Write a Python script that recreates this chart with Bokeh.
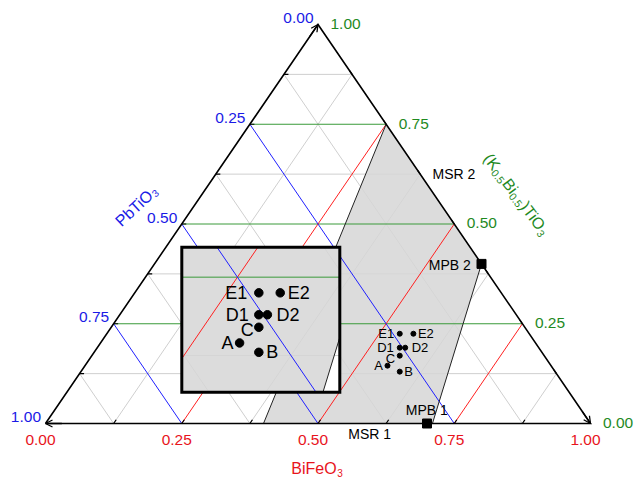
import math
from bokeh.plotting import figure
from bokeh.models import Arrow, OpenHead
from bokeh.core.properties import value
from bokeh.embed import file_html
from bokeh.resources import INLINE

# ---------------- data ----------------
tick_values = [0.0, 0.25, 0.5, 0.75, 1.0]
tick_labels = ["0.00", "0.25", "0.50", "0.75", "1.00"]
minor_values = [0.125, 0.375, 0.625, 0.875]
major_values = [0.25, 0.5, 0.75]
all_tick_values = [0.125, 0.25, 0.375, 0.5, 0.625, 0.75, 0.875]

sample_names = ["A", "B", "C", "D1", "D2", "E1", "E2"]
sample_bifeo3 = [0.555, 0.585, 0.565, 0.555, 0.565, 0.5375, 0.5625]
sample_kbt = [0.145, 0.130, 0.170, 0.190, 0.190, 0.225, 0.225]
sample_pbtio3 = [0.300, 0.285, 0.265, 0.255, 0.245, 0.2375, 0.2125]

mpb_names = ["MPB 1", "MPB 2"]
mpb_bifeo3 = [0.70, 0.60]
mpb_kbt = [0.00, 0.40]
mpb_pbtio3 = [0.30, 0.00]

msr_bifeo3 = [0.40, 0.25, 0.60, 0.71]
msr_kbt = [0.00, 0.75, 0.40, 0.00]
msr_pbtio3 = [0.60, 0.00, 0.00, 0.29]

# ---------------- styles / layout ----------------
FONT = "Liberation Sans"
RED_T, BLUE_T, GREEN_T = "#e8141c", "#1a1ae6", "#1f8a1f"
RED_L, BLUE_L, GREEN_L = "#ff2020", "#2020ff", "#3a9a3a"
GRID_C = "#cfcfcf"
FILL_C = "#d6d6d6"
TICK_FS = 15.5

W, H = 635, 479
PX_X, PX_Y = 545.0, 399.0
X0R = -45.0 / PX_X
Y0R = -56.0 / PX_Y

INSET = (0.2501, 0.5400, 0.0784, 0.4419)   # left, right, bottom, top (plot units)
ZOOM_CENTER = (0.6523, 0.1821)
ZOOM = 1.57

AW = {'(': .333, ')': .333, 'K': .667, '0': .556, '.': .278, '5': .556, 'B': .667,
      'i': .222, 'T': .611, 'O': .778, '3': .556, 'P': .667, 'b': .556, 'F': .611,
      'e': .556, ' ': .278}


def twidth(s, size):
    return sum(AW.get(c, .556) for c in s) * size


def cart(a, b, c):
    s = a + b + c
    return ((a + b / 2.0) / s, b / s)


p = figure(width=W, height=H, output_backend="svg", toolbar_location=None,
           x_range=(X0R, X0R + W / PX_X), y_range=(Y0R, Y0R + H / PX_Y),
           min_border=0, background_fill_color="white", border_fill_color="white")
p.axis.visible = False
p.grid.visible = False
p.outline_line_color = None


def family_line(v, fam):
    if fam == "b":
        return cart(0, v, 1 - v), cart(1 - v, v, 0)
    if fam == "c":
        return cart(0, 1 - v, v), cart(1 - v, 0, v)
    return cart(v, 0, 1 - v), cart(v, 1 - v, 0)


def clip_seg(p0, p1, box):
    L, R, B, T = box
    x0, y0 = p0
    x1, y1 = p1
    dx, dy = x1 - x0, y1 - y0
    t0, t1 = 0.0, 1.0
    for pp, q in ((-dx, x0 - L), (dx, R - x0), (-dy, y0 - B), (dy, T - y0)):
        if pp == 0:
            if q < 0:
                return None
        else:
            t = q / pp
            if pp < 0:
                t0 = max(t0, t)
            else:
                t1 = min(t1, t)
    if t0 >= t1:
        return None
    return (x0 + t0 * dx, y0 + t0 * dy), (x0 + t1 * dx, y0 + t1 * dy)


def clip_poly(pts, box):
    L, R, B, T = box
    tests = [
        (lambda q: q[0] >= L, lambda a, b: (L, a[1] + (b[1] - a[1]) * (L - a[0]) / (b[0] - a[0]))),
        (lambda q: q[0] <= R, lambda a, b: (R, a[1] + (b[1] - a[1]) * (R - a[0]) / (b[0] - a[0]))),
        (lambda q: q[1] >= B, lambda a, b: (a[0] + (b[0] - a[0]) * (B - a[1]) / (b[1] - a[1]), B)),
        (lambda q: q[1] <= T, lambda a, b: (a[0] + (b[0] - a[0]) * (T - a[1]) / (b[1] - a[1]), T)),
    ]
    out = list(pts)
    for inside, inter in tests:
        inp, out = out, []
        if not inp:
            break
        prev = inp[-1]
        for cur in inp:
            if inside(cur):
                if not inside(prev):
                    out.append(inter(prev, cur))
                out.append(cur)
            elif inside(prev):
                out.append(inter(prev, cur))
            prev = cur
    return out


def zoom(pt):
    cx = (INSET[0] + INSET[1]) / 2.0
    cy = (INSET[2] + INSET[3]) / 2.0
    return (cx + ZOOM * (pt[0] - ZOOM_CENTER[0]), cy + ZOOM * (pt[1] - ZOOM_CENTER[1]))


def add_text(x, y, text, size, color, align="left", baseline="middle", dx=0.0, dy=0.0, angle=0.0):
    p.text(x=[x], y=[y], text=[text], text_font=value(FONT), text_font_size=value(f"{size}px"),
           text_color=color, text_align=align, text_baseline=baseline,
           x_offset=dx, y_offset=dy, angle=angle)


def draw_lines(segs, color, width, transform=None, box=None):
    xs, ys = [], []
    for a, b in segs:
        if transform is not None:
            a, b = transform(a), transform(b)
            r = clip_seg(a, b, box)
            if r is None:
                continue
            a, b = r
        xs.append([a[0], b[0]])
        ys.append([a[1], b[1]])
    if xs:
        p.multi_line(xs, ys, line_color=color, line_width=width)


region = [cart(a, b, c) for a, b, c in zip(msr_bifeo3, msr_kbt, msr_pbtio3)]
region_edges = [(region[0], region[1]), (region[2], region[3])]
gray_segs = [family_line(v, f) for v in minor_values for f in ("a", "b", "c")]
red_segs = [family_line(v, "a") for v in major_values]
blue_segs = [family_line(v, "c") for v in major_values]
green_segs = [family_line(v, "b") for v in major_values]


def draw_scene(transform=None, box=None):
    draw_lines(gray_segs, GRID_C, 1, transform, box)
    poly = region if transform is None else clip_poly([transform(q) for q in region], box)
    if poly:
        p.patch([q[0] for q in poly], [q[1] for q in poly], fill_color=FILL_C,
                fill_alpha=0.85, line_color=None)
    draw_lines(green_segs, GREEN_L, 1, transform, box)
    draw_lines(red_segs, RED_L, 1, transform, box)
    draw_lines(blue_segs, BLUE_L, 1, transform, box)
    draw_lines(region_edges, "#222222", 1, transform, box)


# ---------------- main triangle ----------------
draw_scene()

BL, BR, TOP = cart(0, 0, 1), cart(1, 0, 0), cart(0, 1, 0)
p.line([BL[0], BR[0], TOP[0], BL[0]], [BL[1], BR[1], TOP[1], BL[1]],
       line_color="black", line_width=1.6, line_join="miter")

# ticks
TL = 4.5
bt = [cart(v, 0, 1 - v) for v in all_tick_values]
lt = [cart(0, 1 - v, v) for v in all_tick_values]
rt = [cart(1 - v, v, 0) for v in all_tick_values]
tx, ty = [], []
for q in bt:
    tx.append([q[0], q[0] + 0.5644 * TL / PX_X]); ty.append([q[1], q[1] + 0.8255 * TL / PX_Y])
for q in lt:
    tx.append([q[0], q[0] + TL / PX_X]); ty.append([q[1], q[1]])
for q in rt:
    tx.append([q[0], q[0] - 0.5644 * TL / PX_X]); ty.append([q[1], q[1] + 0.8255 * TL / PX_Y])
p.multi_line(tx, ty, line_color="black", line_width=1.2)

# arrow heads at axis ends
for s, e in ((BL, TOP), (TOP, BR), (BR, BL)):
    st = (e[0] - 0.03 * (e[0] - s[0]), e[1] - 0.03 * (e[1] - s[1]))
    p.add_layout(Arrow(end=OpenHead(size=7, line_color="black", line_width=1.3),
                       x_start=st[0], y_start=st[1], x_end=e[0], y_end=e[1],
                       line_color="black", line_width=1.3))

# tick labels
for v, lab in zip(tick_values, tick_labels):
    q = cart(v, 0, 1 - v)
    add_text(q[0], q[1], lab, TICK_FS, RED_T, "center", "middle", -5, 16)
    q = cart(0, 1 - v, v)
    add_text(q[0], q[1], lab, TICK_FS, BLUE_T, "right", "middle", -4.5, -6.5)
    q = cart(1 - v, v, 0)
    add_text(q[0], q[1], lab, TICK_FS, GREEN_T, "left", "middle", 12.5, -0.7)

# axis titles
q = cart(0.5, 0, 0.5)
wb = twidth("BiFeO", 16)
add_text(q[0], q[1], "BiFeO", 16, RED_T, "center", "alphabetic", -4, 44.5)
add_text(q[0], q[1], "3", 10, RED_T, "left", "alphabetic", -4 + wb / 2 + 0.5, 49)


def rotated_title(anchor, start_off, ang_deg, pieces, color):
    th = math.radians(ang_deg)
    al = (math.cos(th), -math.sin(th))
    dn = (math.sin(th), math.cos(th))
    cum = 0.0
    for txt, size, drop in pieces:
        ox = start_off[0] + al[0] * cum + dn[0] * drop
        oy = start_off[1] + al[1] * cum + dn[1] * drop
        add_text(anchor[0], anchor[1], txt, size, color, "left", "alphabetic", ox, oy, th)
        cum += twidth(txt, size) + (0.5 if size < 12 else 0)


rotated_title(cart(0, 0.5, 0.5), (-64.0, -0.5), 43,
              [("PbTiO", 16, 0), ("3", 10, 3)], BLUE_T)
rotated_title(cart(0.5, 0.5, 0), (33.0, -68.5), -53,
              [("(K", 16, 0), ("0.5", 10.5, 4), ("Bi", 16, 0), ("0.5", 10.5, 4),
               (")TiO", 16, 0), ("3", 10.5, 4)], GREEN_T)

# region labels
q = cart(0.375, 0.625, 0)
add_text(q[0], q[1], "MSR 2", 14, "black", "left", "middle", 12.3, -0.6)
q = cart(0.625, 0, 0.375)
add_text(q[0], q[1], "MSR 1", 14, "black", "center", "middle", -16.4, 10.5)

mpb_xy = [cart(a, b, c) for a, b, c in zip(mpb_bifeo3, mpb_kbt, mpb_pbtio3)]
p.scatter([q[0] for q in mpb_xy], [q[1] for q in mpb_xy], marker="square", size=9,
          fill_color="black", line_color="black")
add_text(mpb_xy[0][0], mpb_xy[0][1], mpb_names[0], 14, "black", "center", "middle", -0.2, -13.3)
add_text(mpb_xy[1][0], mpb_xy[1][1], mpb_names[1], 14, "black", "right", "middle", -10.7, 0.9)

# sample points (main)
pts = [cart(a, b, c) for a, b, c in zip(sample_bifeo3, sample_kbt, sample_pbtio3)]
p.scatter([q[0] for q in pts], [q[1] for q in pts], marker="circle", size=5,
          fill_color="black", line_color="black")
main_style = {"A": ("right", -4.5, 0), "B": ("left", 4.5, 0), "C": ("right", -4.5, 2.5),
              "D1": ("right", -6, 0), "D2": ("left", 6.5, 0), "E1": ("right", -5.5, 0),
              "E2": ("left", 4.5, 0)}
for name, q in zip(sample_names, pts):
    al, dx, dy = main_style[name]
    add_text(q[0], q[1], name, 13, "black", al, "middle", dx, dy)

# ---------------- inset (magnified view) ----------------
L, R, B, T = INSET
p.quad(left=[L], right=[R], bottom=[B], top=[T], fill_color="white", line_color=None)
draw_scene(zoom, INSET)
ipts = [zoom(q) for q in pts]
p.scatter([q[0] for q in ipts], [q[1] for q in ipts], marker="circle", size=8.5,
          fill_color="black", line_color="black")
inset_style = {"A": ("right", -6, 0), "B": ("left", 7.5, 0), "C": ("right", -5, 2.5),
               "D1": ("right", -10, 0), "D2": ("left", 9, 0), "E1": ("right", -11.5, 0),
               "E2": ("left", 7.5, 0)}
for name, q in zip(sample_names, ipts):
    al, dx, dy = inset_style[name]
    add_text(q[0], q[1], name, 18, "black", al, "middle", dx, dy)
p.quad(left=[L], right=[R], bottom=[B], top=[T], fill_color=None, line_color="black",
       line_width=3, line_join="miter")

open("out.html", "w").write(file_html(p, INLINE))
